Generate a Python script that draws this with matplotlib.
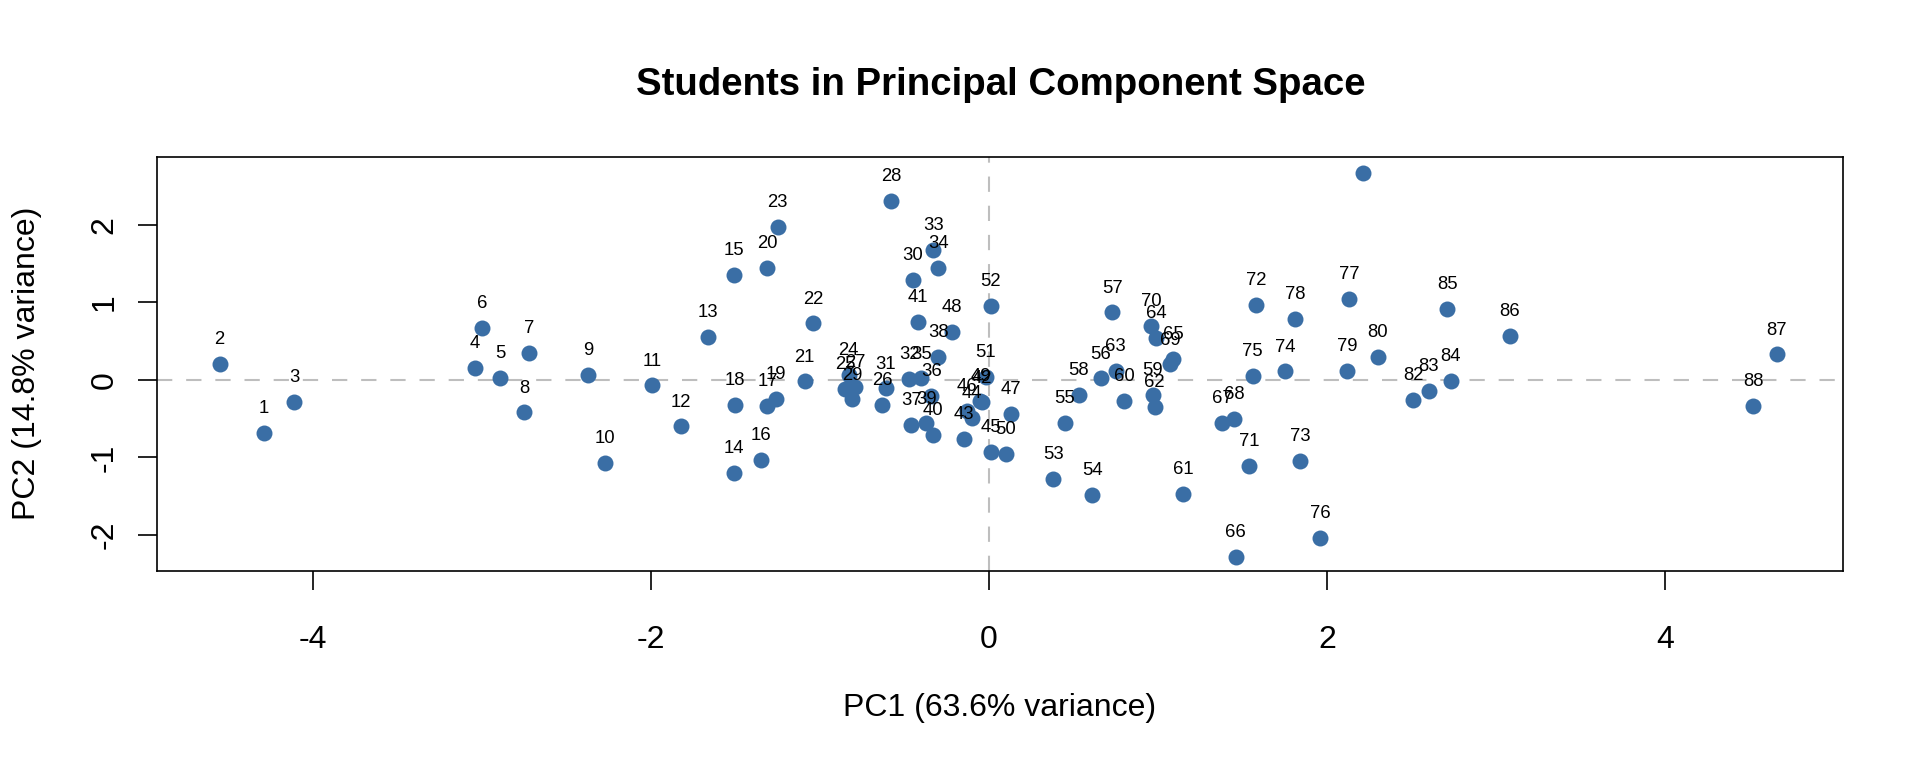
import matplotlib
matplotlib.use("Agg")
import matplotlib.pyplot as plt
from matplotlib.transforms import offset_copy

plt.rcParams['font.family'] = ['Liberation Sans', 'DejaVu Sans']
plt.rcParams['lines.scale_dashes'] = False
plt.rcParams['axes.unicode_minus'] = False

# PCA scores, student 1..88
pc1 = [-4.29, -4.55, -4.11, -3.04, -2.89, -3.00, -2.72, -2.75, -2.37, -2.27,
       -1.99, -1.82, -1.66, -1.51, -1.51, -1.35, -1.31, -1.50, -1.26, -1.31,
       -1.09, -1.04, -1.25, -0.83, -0.85, -0.63, -0.79, -0.58, -0.81, -0.45,
       -0.61, -0.47, -0.33, -0.30, -0.40, -0.34, -0.46, -0.30, -0.37, -0.33,
       -0.42, -0.04, -0.15, -0.10, 0.01, -0.13, 0.13, -0.22, -0.05, 0.10,
       -0.02, 0.01, 0.38, 0.61, 0.45, 0.66, 0.73, 0.53, 0.97, 0.80,
       1.15, 0.98, 0.75, 0.99, 1.09, 1.46, 1.38, 1.45, 1.07, 0.96,
       1.54, 1.58, 1.84, 1.75, 1.56, 1.96, 2.13, 1.81, 2.12, 2.30,
       2.21, 2.51, 2.60, 2.73, 2.71, 3.08, 4.66, 4.52]
pc2 = [-0.68, 0.21, -0.28, 0.15, 0.03, 0.67, 0.35, -0.42, 0.07, -1.07,
       -0.07, -0.60, 0.55, -1.20, 1.36, -1.03, -0.33, -0.32, -0.24, 1.45,
       -0.02, 0.73, 1.97, 0.07, -0.12, -0.32, -0.09, 2.31, -0.25, 1.29,
       -0.11, 0.01, 1.68, 1.44, 0.02, -0.21, -0.58, 0.30, -0.56, -0.71,
       0.75, -0.29, -0.76, -0.49, -0.93, -0.40, -0.44, 0.62, -0.27, -0.95,
       0.04, 0.95, -1.28, -1.48, -0.55, 0.02, 0.87, -0.19, -0.19, -0.27,
       -1.47, -0.35, 0.12, 0.54, 0.27, -2.28, -0.55, -0.50, 0.20, 0.70,
       -1.11, 0.97, -1.04, 0.11, 0.05, -2.04, 1.05, 0.79, 0.12, 0.30,
       2.67, -0.26, -0.14, -0.01, 0.92, 0.57, 0.33, -0.33]
labels = [str(i + 1) for i in range(len(pc1))]
xticks = [-4, -2, 0, 2, 4]
yticks = [-2, -1, 0, 1, 2]

fig = plt.figure(figsize=(19.2, 7.68), dpi=100)
ax = fig.add_axes([0.0818, 0.257, 0.878, 0.539])

ax.axhline(0, color='#BEBEBE', lw=1.5, dashes=(11, 10), zorder=1)
ax.axvline(0, color='#BEBEBE', lw=1.5, dashes=(11, 10), zorder=1)
ax.plot(pc1, pc2, 'o', color='#3A6EA5', markersize=11.5, markeredgewidth=0, zorder=2)

# labels sit just above each point, clipped to the plot box like R's text()
above = offset_copy(ax.transData, fig=fig, x=0, y=17.5, units='points')
for x, y, lab in zip(pc1, pc2, labels):
    ax.text(x, y, lab, transform=above, ha='center', va='center',
            fontsize=13.3, zorder=3, clip_on=True)

ax.set_xlim(-4.92, 5.05)
ax.set_ylim(-2.46, 2.88)
ax.set_xticks(xticks)
ax.set_yticks(yticks)
ax.set_xticklabels([str(t) for t in xticks])
ax.set_yticklabels([str(t) for t in yticks], rotation=90, va='center')
ax.tick_params(direction='out', length=14, width=1.2, labelsize=23)
ax.tick_params(axis='x', pad=25)
ax.tick_params(axis='y', pad=13)
for s in ax.spines.values():
    s.set_linewidth(1.2)

ax.set_xlabel('PC1 (63.6% variance)', fontsize=23, va='center')
ax.set_ylabel('PC2 (14.8% variance)', fontsize=23, va='center')
ax.xaxis.set_label_coords(0.5, -0.331)
ax.yaxis.set_label_coords(-0.0771, 0.5)
fig.text(0.521, 0.889, 'Students in Principal Component Space', ha='center',
         va='center', fontsize=27.6, fontweight='bold')

fig.savefig('out.png', dpi=100)
